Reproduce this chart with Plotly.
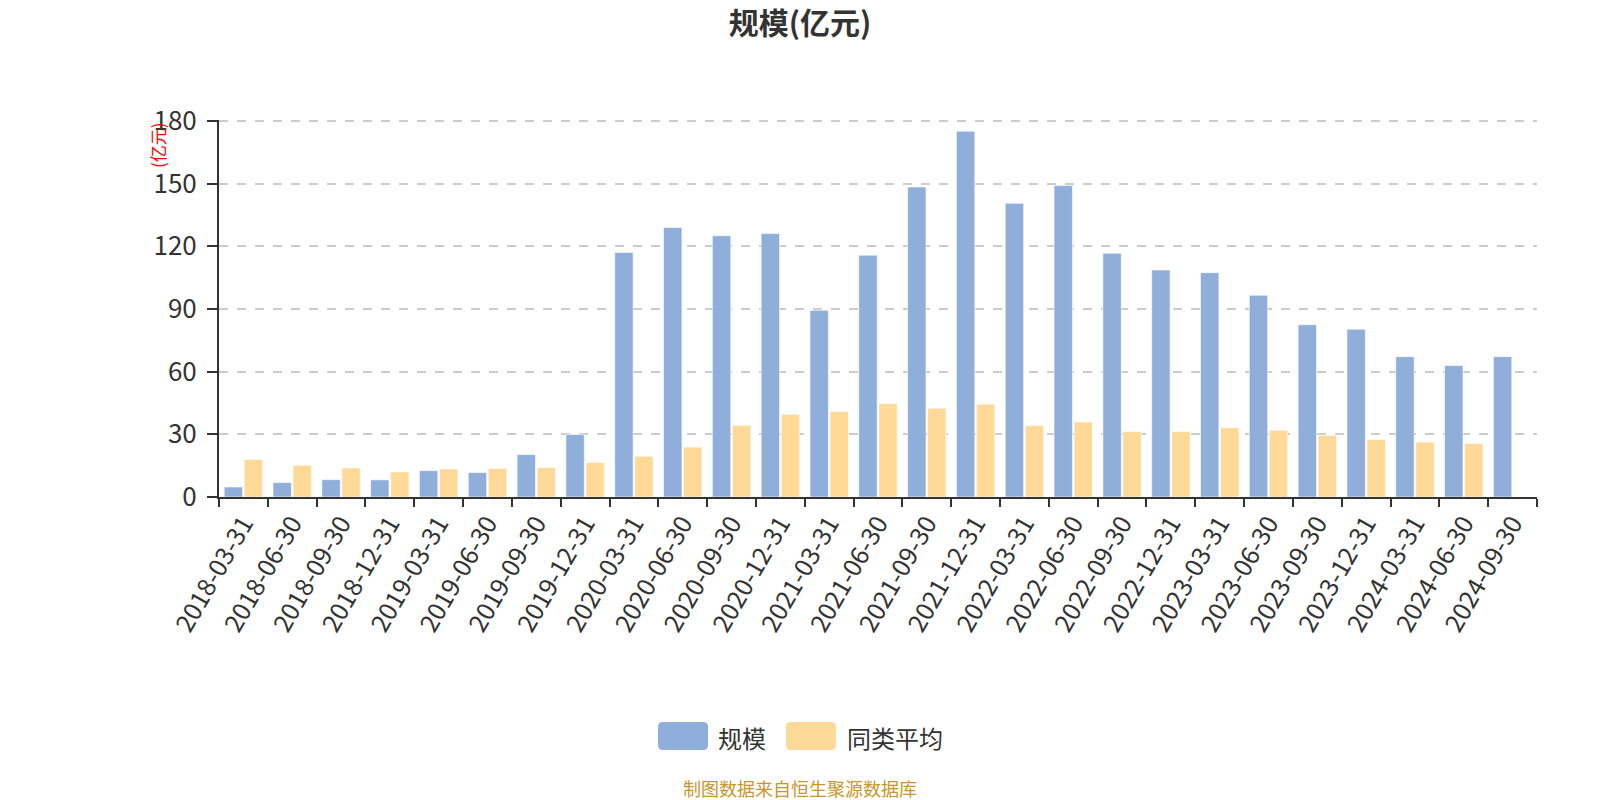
import plotly.graph_objects as go

dates = ["2018-03-31", "2018-06-30", "2018-09-30", "2018-12-31", "2019-03-31", "2019-06-30",
         "2019-09-30", "2019-12-31", "2020-03-31", "2020-06-30", "2020-09-30", "2020-12-31",
         "2021-03-31", "2021-06-30", "2021-09-30", "2021-12-31", "2022-03-31", "2022-06-30",
         "2022-09-30", "2022-12-31", "2023-03-31", "2023-06-30", "2023-09-30", "2023-12-31",
         "2024-03-31", "2024-06-30", "2024-09-30"]
scale = [4.8, 6.9, 8.3, 8.2, 12.6, 11.7, 20.3, 29.9, 117.1, 129.0, 125.1, 126.1,
         89.4, 115.8, 148.4, 175.1, 140.6, 149.1, 116.7, 108.7, 107.4, 96.6, 82.5, 80.3,
         67.2, 62.9, 67.2]
peer_avg = [18.0, 15.2, 13.9, 12.0, 13.4, 13.7, 14.1, 16.5, 19.5, 23.9, 34.3, 39.6,
            40.9, 44.7, 42.5, 44.4, 34.2, 35.9, 31.4, 31.4, 33.2, 31.9, 29.5, 27.5,
            26.3, 25.6, None]
y_ticks = [0, 30, 60, 90, 120, 150, 180]

BLUE = "#8FAEDA"
ORANGE = "#FFD998"
FONT = "Noto Sans CJK SC"

W, H = 1600, 800
L, R, T, B = 219, 63, 120, 303
PW, PH = W - L - R, H - T - B
YMAX = 180.5


def px(xp):
    return (xp - L) / PW


def py(yp):
    return (H - B - yp) / PH


fig = go.Figure()
fig.add_trace(go.Bar(x=dates, y=scale, name="规模", marker_color=BLUE,
                     marker_line_color="rgba(255,255,255,0.6)", marker_line_width=1))
fig.add_trace(go.Bar(x=dates, y=peer_avg, name="同类平均", marker_color=ORANGE,
                     marker_line_color="rgba(255,255,255,0.6)", marker_line_width=1))

fig.update_layout(
    width=W, height=H,
    margin=dict(l=L, r=R, t=T, b=B),
    paper_bgcolor="white", plot_bgcolor="white",
    font=dict(family=FONT, color="#333"),
    showlegend=False,
    barmode="group", bargap=0.18, bargroupgap=0.08,
    title=dict(text="<b>规模(亿元)</b>", x=0.5, xref="container", xanchor="center",
               y=1 - 23 / H, yref="container", yanchor="middle",
               font=dict(size=30, color="#333", family=FONT)),
)

fig.update_xaxes(
    type="category", tickson="boundaries", ticks="outside", ticklen=8, tickwidth=2,
    tickcolor="#333", showline=True, linecolor="#333", linewidth=2,
    tickangle=-60, tickfont=dict(size=25, color="#333", family=FONT),
    showgrid=False, zeroline=False,
)
fig.update_yaxes(
    range=[0, YMAX], tickvals=y_ticks, ticks="outside", ticklen=10, tickwidth=2,
    tickcolor="#333", showline=True, linecolor="#333", linewidth=2,
    tickfont=dict(size=26, color="#333", family=FONT),
    showgrid=True, gridcolor="#CCCCCC", griddash="dash", gridwidth=1.5,
    zeroline=False, ticklabelstandoff=5,
)

annotations = [
    dict(text="(亿元)", textangle=-90, x=px(157), y=py(145), xref="paper", yref="paper",
         xanchor="center", yanchor="middle", showarrow=False,
         font=dict(size=17, color="red", family=FONT)),
    dict(text="制图数据来自恒生聚源数据库", x=px(800), y=py(788), xref="paper", yref="paper",
         xanchor="center", yanchor="middle", showarrow=False,
         font=dict(size=18, color="#C8962A", family=FONT)),
    dict(text="规模", x=px(716), y=py(737), xref="paper", yref="paper",
         xanchor="left", yanchor="middle", showarrow=False,
         font=dict(size=24, color="#333", family=FONT)),
    dict(text="同类平均", x=px(845), y=py(737), xref="paper", yref="paper",
         xanchor="left", yanchor="middle", showarrow=False,
         font=dict(size=24, color="#333", family=FONT)),
]
fig.update_layout(annotations=annotations)

rr = "M-20,-14 L20,-14 Q25,-14 25,-9 L25,9 Q25,14 20,14 L-20,14 Q-25,14 -25,9 L-25,-9 Q-25,-14 -20,-14 Z"
for cx, col in [(683, BLUE), (811, ORANGE)]:
    fig.add_shape(type="path", path=rr, xref="paper", yref="paper",
                  xsizemode="pixel", ysizemode="pixel", xanchor=px(cx), yanchor=py(736),
                  fillcolor=col, line=dict(width=0), layer="above")

fig.write_html("out.html")
